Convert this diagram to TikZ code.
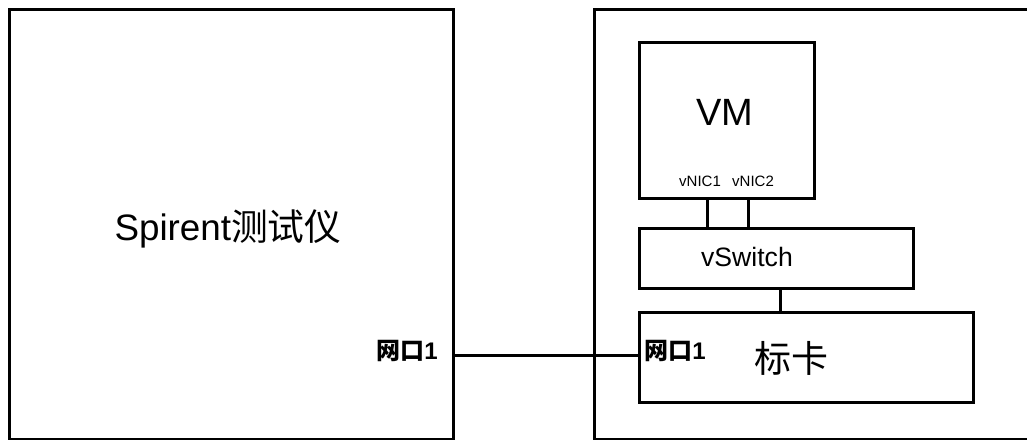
\documentclass[tikz,border=0pt]{standalone}
\usepackage{fontspec}
\setmainfont{Liberation Sans}
\newfontfamily\cjk{Noto Sans CJK SC}
\usetikzlibrary{positioning}

\begin{document}
\begin{tikzpicture}
[x=0.5pt,y=-0.5pt,line width=1.5pt,
box/.style = {draw, rectangle, inner sep = 0pt, anchor = north west},
port/.style = {font=\fontsize{12}{14}\selectfont\bfseries},]
\path[use as bounding box,clip] (0,0) rectangle (1027,439);

\node (tester) at (8,8)[box,minimum width=222pt,minimum height=215pt] {};
\node (host) at (593,8)[box,minimum width=230pt,minimum height=215pt] {};
\node (vm) at (638,41)[box,minimum width=87.5pt,minimum height=78pt] {};
\node (vswitch) at (638,227)[box,minimum width=137pt,minimum height=30pt] {};
\node (nic) at (638,311)[box,minimum width=167pt,minimum height=45pt] {};

\node at (228,229) {\fontsize{18.4}{22}\selectfont Spirent{\cjk 测试仪}};
\node at (725,112) {\fontsize{19}{22}\selectfont VM};
\node (vnic1) at (700,181) {\fontsize{7.5}{9}\selectfont vNIC1};
\node (vnic2) at (753,181) {\fontsize{7.5}{9}\selectfont vNIC2};
\node at (747,257) {\fontsize{13.3}{16}\selectfont vSwitch};
\node at (791,358) {\fontsize{18.5}{21}\selectfont\cjk 标卡};
\node (port1) at (407,351)[port] {{\cjk 网口}1};
\node (port2) at (675,351)[port] {{\cjk 网口}1};

\coordinate (a) at (707,0);
\coordinate (b) at (748,0);
\coordinate (c) at (780,0);
\coordinate (link) at (0,355);

\draw (vm.south -| a)--(vswitch.north -| a);
\draw (vm.south -| b)--(vswitch.north -| b);
\draw (vswitch.south -| c)--(nic.north -| c);
\draw (tester.east |- link)--(nic.west |- link);

\end{tikzpicture}
\end{document}
